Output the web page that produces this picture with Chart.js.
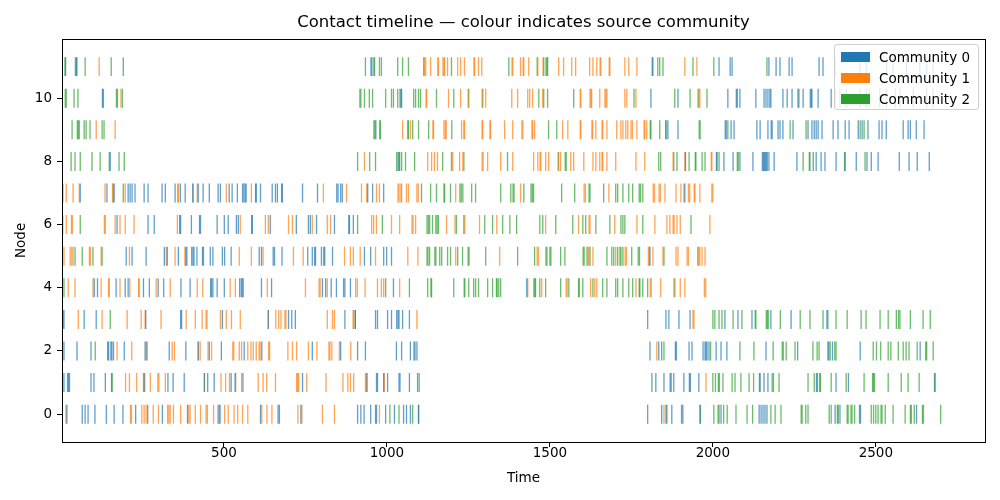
<!DOCTYPE html>
<html>
<head>
<meta charset="utf-8">
<script src="https://cdn.jsdelivr.net/npm/chart.js@4.4.1/dist/chart.umd.min.js"></script>
<style>
  body { margin: 0; background: #fff; }
  #wrap { position: relative; width: 1000px; height: 500px; }
  #legend {
    position: absolute; left: 834px; top: 44px; width: 143px; height: 64px;
    background: rgba(255,255,255,0.8); border: 1px solid #d0d0d0; border-radius: 3px;
    font-family: "DejaVu Sans", sans-serif; font-size: 13.5px; color: #000;
  }
  #legend .item { position: absolute; left: 6px; height: 14px; line-height: 14px; white-space: nowrap; }
  #legend .sw { display: inline-block; width: 29px; height: 10px; vertical-align: middle; margin-right: 9px; margin-top: -2px; }
</style>
</head>
<body>
<div id="wrap">
  <canvas id="c" width="1000" height="500"></canvas>
  <div id="legend"></div>
</div>
<script>
/* ---------- data (event times per node, split by source community) ---------- */
const communities = ["Community 0", "Community 1", "Community 2"];
const xTicks = [500, 1000, 1500, 2000, 2500];
const yTicks = [0, 2, 4, 6, 8, 10];

// node 0
const n0c0 = [18,65,74,83,104,139,163,190,229,266,311,388,482,488,612,666,670,736,910,920,930,950,965,968,996,1023,1051,1060,1072,1097,1800,1843,1859,1874,1904,1908,1961,2025,2142,2148,2154,2160,2166,2375,2390,2450,2453,2625];
const n0c1 = [15,213,216,248,255,261,283,299,327,331,335,345,367,392,396,412,428,445,449,468,486,502,513,531,542,557,573,616,632,647,727,739,802,839,977,1850];
const n0c2 = [1009,1037,1079,1097,1856,1961,2003,2016,2019,2033,2044,2071,2105,2122,2178,2191,2209,2271,2274,2285,2292,2357,2363,2382,2385,2412,2415,2424,2427,2435,2486,2493,2500,2507,2516,2519,2529,2553,2590,2606,2609,2618,2643,2646,2699];
// node 1
const n1c0 = [9,20,23,26,92,101,136,155,255,328,344,378,440,450,470,522,534,555,741,939,968,971,990,1002,1037,1040,1069,1094,1813,1825,1850,1869,1872,1880,1911,1928,1931,1957,2145,2157,2169,2318,2378,2416,2682];
const n1c1 = [198,210,232,253,257,274,297,300,320,440,491,505,517,536,559,605,620,631,658,723,726,729,754,813,865,880,888,898,934,937,992,1979];
const n1c2 = [157,1099,2000,2008,2017,2020,2031,2059,2068,2086,2111,2125,2143,2182,2186,2203,2292,2311,2321,2328,2330,2363,2409,2464,2490,2493,2496,2538,2578,2599,2633,2680];
// node 2
const n2c0 = [9,49,92,143,146,153,156,161,194,258,264,332,383,421,455,492,562,616,771,858,910,934,1029,1045,1072,1083,1086,1092,1807,1834,1843,1885,1888,1927,1936,1970,1976,1979,1982,1988,2010,2025,2043,2163,2260,2353,2356,2367,2452,2636];
const n2c1 = [172,217,261,341,348,421,427,451,462,527,530,547,554,573,583,590,599,608,611,637,640,696,710,723,759,785,822,825,831,854,889,1828];
const n2c2 = [105,1850,1993,2083,2126,2185,2213,2216,2225,2252,2307,2320,2326,2360,2374,2378,2492,2502,2515,2538,2546,2569,2584,2593,2602,2627,2653,2656,2676];
// node 3
const n3c0 = [6,9,71,108,260,367,370,495,636,698,708,719,871,903,965,971,1002,1014,1030,1034,1037,1048,1069,1800,1856,1865,1896,1930,2037,2077,2120,2178,2240,2350];
const n3c1 = [53,126,203,246,258,307,384,412,433,445,448,489,507,523,550,636,659,668,675,687,690,817,833,839,896,898,1092,1939,1942];
const n3c2 = [151,903,2000,2006,2019,2028,2062,2089,2130,2132,2164,2167,2170,2207,2268,2298,2338,2353,2378,2412,2455,2470,2513,2538,2563,2570,2574,2606,2645,2667];
// node 4
const n4c0 = [102,112,169,197,206,253,271,298,315,368,396,459,462,466,479,501,548,553,556,559,615,646,802,812,829,845,867,871,888,1020,1429];
const n4c1 = [22,43,98,123,146,148,181,211,238,240,292,335,418,435,519,535,633,750,792,795,817,904,909,933,971,983,990,1039,1432,1475,1550,1553,1625,1638,1644,1764,1808,1811,1840,1884,1900,1914,1974,1978];
const n4c2 = [9,996,1069,1125,1135,1137,1205,1237,1239,1251,1266,1272,1281,1309,1324,1336,1338,1343,1349,1451,1454,1456,1469,1487,1533,1558,1588,1590,1601,1632,1662,1675,1702,1708,1724,1742,1754,1774,1776,1785,1800,1881];
// node 5
const n5c0 = [200,218,261,317,326,360,383,386,401,405,408,417,434,437,458,466,495,502,522,608,615,651,655,678,757,771,778,781,799,806,809,833,931,950,990,999,1014,1807];
const n5c1 = [9,28,33,37,87,90,123,210,323,350,380,547,584,620,713,743,870,888,897,918,965,1064,1095,1211,1346,1461,1465,1617,1620,1632,1702,1731,1735,1802,1805,1816,1847,1887,1893,1921,1925,1957,1960,1967,1976];
const n5c2 = [43,65,98,126,1123,1126,1131,1147,1150,1162,1168,1186,1195,1217,1232,1249,1252,1303,1401,1453,1488,1491,1500,1503,1533,1546,1602,1605,1614,1623,1675,1690,1696,1708,1715,1718,1724,1751,1771,1775,1850,1954];
// node 6
const n6c0 = [3,5,172,267,286,364,367,400,425,428,479,501,513,538,544,585,587,642,722,759,765,784,839,883,885,897];
const n6c1 = [16,32,35,133,136,166,181,197,224,357,550,627,636,698,710,771,817,827,953,959,968,1014,1039,1077,1080,1088,1183,1209,1239,1284,1337,1487,1588,1620,1623,1699,1767,1822,1859,1868,1878,1881,1890,1900,1991];
const n6c2 = [59,910,986,1123,1127,1131,1140,1150,1154,1158,1213,1236,1300,1324,1355,1377,1398,1469,1478,1518,1570,1601,1610,1641,1684,1718,1724,1730,1785,1933];
// node 7
const n7c0 = [59,141,163,206,212,218,227,255,267,310,320,350,366,381,404,421,436,455,482,489,516,525,541,557,561,565,568,597,599,612,648,658,664,677,679,741,787,846,850,858,863,941,956,990,1914];
const n7c1 = [6,16,37,56,135,158,197,358,360,406,418,507,584,805,876,922,938,968,977,1034,1037,1043,1045,1060,1066,1092,1096,1211,1410,1605,1609,1681,1817,1821,1835,1839,1853,1887,1902,1911,1925,1929,1943,1945,1960,1997,2000];
const n7c2 = [160,191,1106,1134,1152,1175,1177,1195,1224,1228,1233,1260,1272,1349,1380,1387,1390,1420,1442,1446,1450,1536,1576,1620,1623,1665,1702,1708,1724,1742,1754,1774,1778,1785];
// node 8
const n8c0 = [151,1037,1916,2011,2013,2034,2062,2083,2123,2152,2155,2158,2161,2164,2167,2172,2188,2258,2308,2317,2332,2344,2378,2406,2440,2473,2486,2507,2572,2602,2627,2664];
const n8c1 = [931,1125,1137,1146,1155,1202,1223,1233,1292,1295,1309,1349,1386,1450,1463,1470,1472,1487,1496,1525,1533,1564,1573,1604,1632,1641,1653,1660,1662,1675,1702,1764,1791,1878,1914,1995,1997];
const n8c2 = [31,43,59,95,120,148,178,194,910,947,965,1030,1034,1039,1045,1057,1085,1171,1198,1236,1370,1527,1547,1550,1834,1840,1880,1890,1927,1946,1948,1967,1976,2019,2075,2078,2277,2296,2298,2404,2467];
// node 9
const n9c0 = [966,1856,1862,1893,2038,2041,2056,2065,2135,2145,2169,2179,2182,2200,2206,2215,2246,2292,2304,2311,2317,2323,2335,2369,2384,2406,2418,2446,2458,2476,2510,2519,2532,2584,2599,2606,2624,2648];
const n9c1 = [108,166,1048,1072,1141,1143,1175,1179,1182,1229,1236,1238,1292,1294,1316,1318,1361,1386,1414,1417,1445,1447,1453,1539,1555,1593,1595,1629,1631,1641,1660,1662,1675,1705,1718,1724,1733,1739,1749,1753,1767,1789,1791,1797];
const n9c2 = [34,50,53,56,71,77,89,126,132,960,963,978,980,1064,1066,1079,1097,1128,1199,1496,1521,1808,1810,1837,1856,1958,1961,2046,2237,2286,2452,2464];
// node 10
const n10c0 = [127,130,1043,1045,1810,1893,2046,2072,2075,2083,2132,2157,2163,2169,2175,2178,2215,2228,2243,2264,2277,2299,2304,2323,2363,2375,2390,2410,2451,2471,2512,2533,2574,2615,2656,2676];
const n10c1 = [184,1120,1122,1189,1226,1249,1292,1303,1383,1401,1432,1438,1447,1478,1593,1595,1623,1626,1628,1653,1669,1672,1675,1730,1736,1764,1954,1960];
const n10c2 = [13,16,40,52,170,173,188,917,920,931,946,956,996,1014,1020,1033,1040,1082,1088,1097,1103,1152,1205,1251,1294,1466,1481,1493,1573,1758,1883,1930,1957,1982,2261,2302,2480,2560];
// node 11
const n11c0 = [14,47,191,951,954,1814,1816,2019,2053,2059,2172,2194,2206,2234,2243,2326,2338,2375,2451,2471,2533,2553,2594,2635,2656];
const n11c1 = [117,1115,1119,1134,1156,1158,1172,1175,1177,1186,1217,1226,1238,1267,1269,1281,1291,1384,1386,1410,1418,1420,1435,1463,1479,1527,1542,1567,1579,1622,1632,1644,1654,1656,1682,1684,1730,1742,1767,1914,1951];
const n11c2 = [12,44,49,74,154,934,960,962,977,983,1033,1048,1066,1113,1198,1374,1461,1481,1488,1491,1493,1831,1837,1847,1939,2003,2166,2676];

const events = [
  [n0c0, n0c1, n0c2], [n1c0, n1c1, n1c2], [n2c0, n2c1, n2c2], [n3c0, n3c1, n3c2],
  [n4c0, n4c1, n4c2], [n5c0, n5c1, n5c2], [n6c0, n6c1, n6c2], [n7c0, n7c1, n7c2],
  [n8c0, n8c1, n8c2], [n9c0, n9c1, n9c2], [n10c0, n10c1, n10c2], [n11c0, n11c1, n11c2]
];

/* ---------- styles ---------- */
const solid = ["#1f77b4", "#ff7f0e", "#2ca02c"];
const faded = ["rgba(31,119,180,0.7)", "rgba(255,127,14,0.7)", "rgba(44,160,44,0.7)"];
const FONT = "'DejaVu Sans', sans-serif";

// half line length = 0.3 data units on the y scale
function tickRadius(ctx){
  const y = ctx.chart.scales.y;
  if (!y) return 9.5;
  return Math.abs(y.getPixelForValue(0.3) - y.getPixelForValue(0));
}

const datasets = communities.map((name, c) => ({
  label: name,
  data: events.flatMap((row, node) => row[c].map(t => ({ x: t, y: node }))),
  pointStyle: "line",
  rotation: 90,
  radius: tickRadius,
  borderColor: faded[c],
  backgroundColor: faded[c],
  borderWidth: 1.3
}));

// frame around the plot area (matplotlib spines)
const framePlugin = {
  id: "frame",
  afterDatasetsDraw(chart){
    const a = chart.chartArea, ctx = chart.ctx;
    ctx.save();
    ctx.strokeStyle = "#000";
    ctx.lineWidth = 1;
    ctx.strokeRect(Math.round(a.left) + 0.5, Math.round(a.top) + 0.5,
                   Math.round(a.right - a.left), Math.round(a.bottom - a.top));
    ctx.restore();
  }
};

new Chart(document.getElementById("c"), {
  type: "scatter",
  data: { datasets },
  plugins: [framePlugin],
  options: {
    responsive: false,
    animation: false,
    events: [],
    layout: { padding: { left: 0, right: 15, top: 0, bottom: 0 } },
    plugins: {
      legend: { display: false },
      tooltip: { enabled: false },
      title: {
        display: true,
        fullSize: false,
        text: "Contact timeline — colour indicates source community",
        color: "#000",
        font: { family: FONT, size: 16.5, weight: "normal" },
        padding: { top: 13, bottom: 6 }
      }
    },
    scales: {
      x: {
        type: "linear",
        min: 3,
        max: 2835,
        afterBuildTicks: s => { s.ticks = xTicks.map(v => ({ value: v })); },
        afterFit: s => { s.height = 58; },
        grid: { drawOnChartArea: false, drawTicks: true, tickLength: 5, color: "#000", lineWidth: 1 },
        border: { display: false },
        ticks: { color: "#000", font: { family: FONT, size: 13.5 }, padding: -2, maxRotation: 0, callback: v => String(v) },
        title: { display: true, text: "Time", color: "#000", font: { family: FONT, size: 13.5 }, padding: { top: 2, bottom: 13 } }
      },
      y: {
        type: "linear",
        min: -0.88,
        max: 11.88,
        afterBuildTicks: s => { s.ticks = yTicks.map(v => ({ value: v })); },
        afterFit: s => { s.width = 62; },
        grid: { drawOnChartArea: false, drawTicks: true, tickLength: 5, color: "#000", lineWidth: 1 },
        border: { display: false },
        ticks: { color: "#000", font: { family: FONT, size: 13.5 }, padding: 5, callback: v => String(v) },
        title: { display: true, text: "Node", color: "#000", font: { family: FONT, size: 13.5 }, padding: { top: 13, bottom: 4 } }
      }
    }
  }
});

// legend drawn on top of the data, like matplotlib's
const leg = document.getElementById("legend");
communities.forEach((name, c) => {
  const it = document.createElement("div");
  it.className = "item";
  it.style.top = (5 + c * 21) + "px";
  it.innerHTML = `<span class="sw" style="background:${solid[c]}"></span>${name}`;
  leg.appendChild(it);
});
</script>
</body>
</html>
